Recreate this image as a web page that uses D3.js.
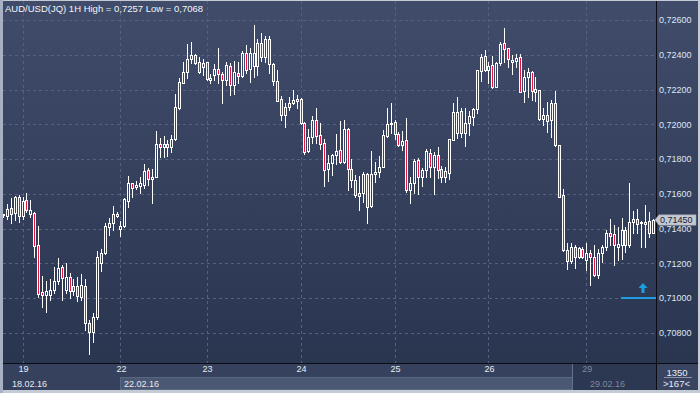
<!DOCTYPE html>
<html><head><meta charset="utf-8">
<script src="https://cdn.jsdelivr.net/npm/d3@7"></script>
<style>html,body{margin:0;padding:0;background:#c5cbd5;}svg{display:block;}</style>
</head><body>
<svg id="chart" width="700" height="393"></svg>
<script>
// ---- DATA (AUD/USD 1H candles, 167 bars) ----
const titleText = "AUD/USD(JQ) 1H High = 0,7257 Low = 0,7068";
const opens = [.71475,.71472,.71516,.71488,.71580,.71472,.71564,.71484,.71491,.71305,.71036,.71017,.71017,.71046,.71100,.71177,.71046,.71119,.71069,.71069,.71008,.71069,.70858,.70806,.70889,.71200,.71261,.71407,.71433,.71472,.71395,.71416,.71560,.71660,.71637,.71646,.71650,.71737,.71683,.71698,.71885,.71867,.71885,.71867,.71913,.72092,.72239,.72302,.72374,.72399,.72357,.72328,.72357,.72255,.72283,.72316,.72289,.72255,.72335,.72226,.72297,.72278,.72408,.72316,.72335,.72335,.72469,.72389,.72489,.72347,.72251,.72144,.72053,.72101,.72124,.72136,.72144,.72009,.71848,.71928,.72025,.71938,.71890,.71741,.71775,.71823,.71852,.71785,.71971,.71741,.71679,.71603,.71606,.71714,.71530,.71714,.71727,.71756,.71932,.71999,.72015,.71944,.71881,.71909,.71622,.71660,.71794,.71698,.71737,.71836,.71752,.71823,.71741,.71698,.71721,.71909,.71951,.72076,.71951,.72009,.72043,.72086,.72308,.72393,.72312,.72341,.72216,.72351,.72466,.72437,.72360,.72366,.72385,.72193,.72274,.72302,.72187,.72197,.72029,.72053,.72025,.72124,.71881,.71593,.71276,.71215,.71295,.71234,.71280,.71219,.71261,.71234,.71132,.71261,.71292,.71372,.71368,.71295,.71305,.71391,.71305,.71439,.71453,.71433,.71426,.71445,.71376];
const highs = [.71486,.71541,.71574,.71587,.71593,.71580,.71606,.71564,.71497,.71414,.71127,.71100,.71108,.71177,.71229,.71190,.71200,.71146,.71108,.71123,.71138,.71108,.70873,.70916,.71272,.71280,.71430,.71459,.71530,.71497,.71445,.71574,.71702,.71664,.71675,.71695,.71771,.71747,.71741,.71963,.71919,.71932,.71909,.71938,.72174,.72264,.72360,.72462,.72475,.72404,.72385,.72374,.72361,.72289,.72347,.72437,.72302,.72360,.72351,.72366,.72360,.72423,.72456,.72437,.72570,.72489,.72523,.72508,.72508,.72351,.72312,.72163,.72124,.72159,.72197,.72168,.72149,.72015,.71971,.72048,.72092,.72006,.71913,.71823,.71826,.71944,.72020,.72025,.71976,.71798,.71708,.71702,.71727,.71717,.71848,.71785,.71817,.71967,.72092,.72124,.72025,.71957,.71963,.72034,.71698,.71798,.71804,.71747,.71856,.71856,.71842,.71871,.71760,.71756,.71915,.72124,.72159,.72094,.72092,.72076,.72092,.72315,.72404,.72427,.72360,.72393,.72360,.72475,.72552,.72439,.72399,.72404,.72404,.72312,.72322,.72308,.72270,.72200,.72092,.72130,.72140,.72193,.71883,.71626,.71315,.71318,.71305,.71295,.71292,.71318,.71276,.71305,.71280,.71305,.71391,.71453,.71420,.71410,.71459,.71410,.71660,.71502,.71511,.71443,.71535,.71497,.71453];
const lows = [.71469,.71453,.71433,.71449,.71439,.71453,.71497,.71465,.71238,.71008,.70950,.70921,.70989,.71031,.71081,.70989,.71027,.70998,.71017,.70985,.70989,.70816,.70678,.70749,.70878,.71157,.71253,.71363,.71391,.71465,.71357,.71409,.71526,.71580,.71626,.71606,.71631,.71650,.71549,.71694,.71813,.71813,.71817,.71842,.71909,.72086,.72235,.72264,.72351,.72345,.72297,.72283,.72255,.72236,.72255,.72236,.72124,.72226,.72168,.72174,.72239,.72274,.72293,.72245,.72274,.72283,.72366,.72360,.72293,.72226,.72131,.72025,.71983,.72082,.72117,.72092,.72001,.71829,.71842,.71890,.71890,.71856,.71645,.71675,.71708,.71771,.71779,.71779,.71622,.71641,.71580,.71507,.71554,.71433,.71526,.71669,.71698,.71752,.71925,.71948,.71913,.71875,.71852,.71612,.71549,.71603,.71599,.71645,.71695,.71695,.71599,.71689,.71669,.71669,.71683,.71907,.71919,.71924,.71875,.71938,.71996,.72063,.72251,.72307,.72236,.72207,.72213,.72341,.72360,.72331,.72289,.72331,.72186,.72130,.72159,.72140,.72136,.72025,.71996,.71957,.71928,.71875,.71581,.71273,.71165,.71200,.71171,.71229,.71229,.71161,.71075,.71127,.71114,.71209,.71276,.71305,.71190,.71219,.71223,.71267,.71295,.71372,.71372,.71295,.71292,.71353,.71372];
const closes = [.71481,.71511,.71484,.71583,.71472,.71560,.71507,.71507,.71299,.71023,.71017,.71040,.71046,.71100,.71171,.71114,.71119,.71042,.71042,.71012,.71073,.70858,.70806,.70889,.71234,.71261,.71414,.71433,.71484,.71484,.71416,.71568,.71660,.71631,.71650,.71664,.71731,.71683,.71698,.71885,.71867,.71885,.71867,.71913,.72098,.72245,.72302,.72374,.72399,.72354,.72302,.72354,.72259,.72264,.72316,.72289,.72255,.72341,.72226,.72302,.72278,.72408,.72312,.72412,.72412,.72469,.72389,.72489,.72347,.72251,.72136,.72053,.72098,.72124,.72140,.72144,.72006,.71842,.71925,.72025,.71932,.71886,.71737,.71775,.71823,.71848,.71785,.71971,.71741,.71679,.71593,.71589,.71714,.71526,.71714,.71727,.71756,.71938,.72001,.72006,.71944,.71881,.71905,.71622,.71660,.71790,.71695,.71737,.71848,.71752,.71823,.71737,.71698,.71733,.71913,.72072,.72072,.71951,.72006,.72045,.72086,.72312,.72385,.72312,.72335,.72216,.72351,.72462,.72431,.72374,.72370,.72380,.72187,.72270,.72302,.72193,.72201,.72029,.72053,.72020,.72124,.71881,.71583,.71276,.71215,.71295,.71234,.71286,.71238,.71261,.71234,.71132,.71261,.71292,.71372,.71357,.71305,.71311,.71391,.71305,.71439,.71453,.71426,.71439,.71439,.71376,.71450];
const priceTicks = [0.708, 0.710, 0.712, 0.714, 0.716, 0.718, 0.720, 0.722, 0.724, 0.726];
const dayTickIndex = [5, 30, 52, 76, 100, 124, 149];
const dayTickLabels = ["19", "22", "23", "24", "25", "26", "29"];
const weekLabels = ["18.02.16", "22.02.16", "29.02.16"];
const lastPrice = 0.71450;
const alertPrice = 0.7100;
const barCountLabel = "1350";
const visibleBarsLabel = ">167<";

// ---- LAYOUT ----
const svg = d3.select("#chart");
const plot = {left: 3, right: 656, top: 1, bottom: 363};
const x = d3.scaleLinear().domain([0, opens.length - 1]).range([3, 652.9]);
const y = d3.scaleLinear().domain([0.708, 0.726]).range([332.75, 20]);
const fmt = v => d3.format(".5f")(v).replace(".", ",");
const font = "'Liberation Sans', Arial, sans-serif";

const defs = svg.append("defs");
const bg = defs.append("linearGradient").attr("id", "bg").attr("gradientUnits", "userSpaceOnUse")
  .attr("x1", 0).attr("y1", 0).attr("x2", 0).attr("y2", 363);
bg.append("stop").attr("offset", 0).attr("stop-color", "#404c6a");
bg.append("stop").attr("offset", 1).attr("stop-color", "#2a3550");
defs.append("clipPath").attr("id", "clip").append("rect")
  .attr("x", plot.left).attr("y", plot.top).attr("width", plot.right - plot.left).attr("height", plot.bottom - plot.top);

// frame + background
svg.append("rect").attr("width", 700).attr("height", 393).attr("fill", "#c5cbd5");
svg.append("rect").attr("x", 0).attr("y", 0).attr("width", 3).attr("height", 393).attr("fill", "#a7b1c3");
svg.append("rect").attr("x", 3).attr("y", 1).attr("width", 695).attr("height", 389).attr("fill", "url(#bg)");

// bottom axis rows
svg.append("rect").attr("x", 3).attr("y", 364).attr("width", 653).attr("height", 26).attr("fill", "#36425d");
svg.append("rect").attr("x", 120.5).attr("y", 377.5).attr("width", 452).attr("height", 12).attr("fill", "#4b5873").attr("stroke", "#5a6781");
svg.append("rect").attr("x", 573).attr("y", 364).attr("width", 83).attr("height", 26).attr("fill", "#2c3751");
svg.append("line").attr("x1", 572.5).attr("x2", 572.5).attr("y1", 364).attr("y2", 390).attr("stroke", "#66728b");
svg.append("rect").attr("x", 657).attr("y", 364).attr("width", 41).attr("height", 26).attr("fill", "#394560");

// gridlines
const grid = svg.append("g").attr("stroke", "#56627d").attr("stroke-dasharray", "3,3").attr("shape-rendering", "crispEdges");
grid.selectAll("line.h").data(priceTicks).join("line").attr("class", "h")
  .attr("x1", plot.left).attr("x2", plot.right).attr("y1", d => Math.round(y(d)) + 0.5).attr("y2", d => Math.round(y(d)) + 0.5);
grid.selectAll("line.v").data(dayTickIndex).join("line").attr("class", "v")
  .attr("x1", d => Math.round(x(d)) + 0.5).attr("x2", d => Math.round(x(d)) + 0.5).attr("y1", plot.top).attr("y2", plot.bottom);

// candles
const bars = d3.range(opens.length).map(i => ({i, o: opens[i], h: highs[i], l: lows[i], c: closes[i]}));
const cg = svg.append("g").attr("clip-path", "url(#clip)").attr("shape-rendering", "crispEdges");
const cand = cg.selectAll("g.c").data(bars).join("g").attr("class", "c");
cand.append("line")
  .attr("x1", d => Math.round(x(d.i)) + 0.5).attr("x2", d => Math.round(x(d.i)) + 0.5)
  .attr("y1", d => Math.round(y(d.h))).attr("y2", d => Math.round(y(d.l)) + 1)
  .attr("stroke", "#ffffff").attr("stroke-width", 1);
cand.append("rect")
  .attr("x", d => Math.round(x(d.i)) - 0.5)
  .attr("y", d => Math.round(y(Math.max(d.o, d.c))) + 0.5)
  .attr("width", 2)
  .attr("height", d => Math.max(1, Math.round(y(Math.min(d.o, d.c))) - Math.round(y(Math.max(d.o, d.c)))))
  .attr("fill", d => d.c >= d.o ? "url(#bg)" : "#e3173e")
  .attr("stroke", "#ffffff").attr("stroke-width", 1);

// frame lines
svg.append("line").attr("x1", 3).attr("x2", 698).attr("y1", 363.5).attr("y2", 363.5).attr("stroke", "#0a0d14");
svg.append("line").attr("x1", 656.5).attr("x2", 656.5).attr("y1", 1).attr("y2", 390).attr("stroke", "#0a0d14");

// right price axis
const yAxis = d3.axisRight(y).tickValues(priceTicks).tickFormat(fmt).tickSize(0).tickPadding(3);
const ya = svg.append("g").attr("transform", "translate(656,0)").call(yAxis);
ya.select(".domain").remove();
ya.selectAll("text").attr("fill", "#dfe7f4").attr("font-family", font).attr("font-size", "9px");

// bottom day axis
const xAxis = d3.axisBottom(x).tickValues(dayTickIndex).tickFormat((d, k) => dayTickLabels[k]).tickSize(0).tickPadding(3);
const xa = svg.append("g").attr("transform", "translate(0.5,363)").call(xAxis);
xa.select(".domain").remove();
xa.selectAll("text").attr("font-family", font).attr("font-size", "9px")
  .attr("fill", (d, k) => k === dayTickIndex.length - 1 ? "#7e899e" : "#e6ebf3");

// week labels
const wk = [{t: weekLabels[0], x: 12, c: "#e6ebf3"}, {t: weekLabels[1], x: 124, c: "#e6ebf3"}, {t: weekLabels[2], x: 590, c: "#7e899e"}];
svg.selectAll("text.wk").data(wk).join("text").attr("class", "wk")
  .attr("x", d => d.x).attr("y", 386.5).text(d => d.t)
  .attr("fill", d => d.c).attr("font-family", font).attr("font-size", "9px");

// bottom-right box
svg.append("text").attr("x", 677).attr("y", 375.5).attr("text-anchor", "middle").text(barCountLabel)
  .attr("fill", "#e6ebf3").attr("font-family", font).attr("font-size", "9.5px");
svg.append("line").attr("x1", 664).attr("x2", 692).attr("y1", 377.5).attr("y2", 377.5).attr("stroke", "#8a95a9");
svg.append("text").attr("x", 676.5).attr("y", 387).attr("text-anchor", "middle").text(visibleBarsLabel)
  .attr("fill", "#e6ebf3").attr("font-family", font).attr("font-size", "9.5px");

// title
svg.append("text").attr("x", 5).attr("y", 11.5).text(titleText)
  .attr("fill", "#f2f5fa").attr("font-family", font).attr("font-size", "9.5px");

// alert line + arrow
const ay = Math.round(y(alertPrice));
svg.append("line").attr("x1", 621).attr("x2", 656).attr("y1", ay).attr("y2", ay).attr("stroke", "#1e9de2").attr("stroke-width", 2);
const axc = 643;
svg.append("path").attr("d", `M${axc - 4.5},${ay - 10} L${axc},${ay - 15} L${axc + 4.5},${ay - 10} Z`).attr("fill", "#1e9de2");
svg.append("rect").attr("x", axc - 1.5).attr("y", ay - 11).attr("width", 3).attr("height", 6).attr("fill", "#1e9de2");

// last price label
const ly = y(lastPrice);
svg.append("path").attr("d", `M655,${ly} L659,${ly - 5} L696,${ly - 5} L696,${ly + 5.5} L659,${ly + 5.5} Z`)
  .attr("fill", "#c3c8d1").attr("stroke", "#9aa2b0").attr("stroke-width", 0.5);
svg.append("text").attr("x", 660).attr("y", ly + 3.5).text(fmt(lastPrice))
  .attr("fill", "#1b2233").attr("font-family", font).attr("font-size", "9px");
</script>
</body></html>
